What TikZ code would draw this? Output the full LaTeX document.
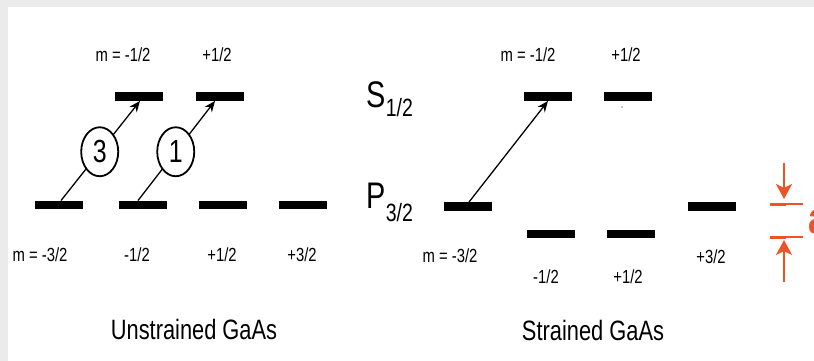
\documentclass[tikz,border=0pt]{standalone}
\usepackage{fontspec}
\setmainfont{Liberation Sans}
\newfontfamily\nar[FakeStretch=0.78]{Liberation Sans}
\usetikzlibrary{arrows.meta,shapes.geometric}
\definecolor{dimred}{RGB}{236,84,40}
\tikzset{
  bar/.style={fill=black, inner sep=0pt, minimum width=48pt, minimum height=8.5pt, draw=none},
  lbl/.style={font=\nar\fontsize{19}{21}\selectfont, inner sep=0pt},
  ttl/.style={font=\nar\fontsize{28}{30}\selectfont, inner sep=0pt},
  trans/.style={line width=1.3pt, -{Stealth[length=11pt,width=9pt]}},
  num/.style={ellipse, draw, line width=1.8pt, fill=white, minimum width=37pt, minimum height=49pt, inner sep=0pt, font=\nar\fontsize{32}{34}\selectfont},
  dim/.style={dimred, line width=2.6pt},
  dimarrow/.style={dimred, line width=2.6pt, -{Stealth[length=15pt,width=16pt,inset=4pt]}},
}
\begin{document}
\begin{tikzpicture}[x=1pt,y=-1pt]
\useasboundingbox (0,0) rectangle (814,361);
\clip (0,0) rectangle (814,361);
\fill[white] (0,0) rectangle (814,361);
\fill[gray!16] (0,0) rectangle (814,7);
\fill[gray!16] (0,0) rectangle (8,361);

% ---- Unstrained GaAs ----
\node[bar] (uu1) at (139,96.5) {};
\node[bar] (uu2) at (220,96.5) {};
\node[bar] (ul1) at (59,205) {};
\node[bar] (ul2) at (142.5,205) {};
\node[bar] (ul3) at (223,205) {};
\node[bar] (ul4) at (303,205) {};

\node[lbl] (tu1) at (123,55) {m = -1/2};
\node[lbl] (tu2) at (217,55) {+1/2};
\node[lbl] (bu1) at (40,255) {m = -3/2};
\node[lbl] (bu2) at (137,255) {-1/2};
\node[lbl] (bu3) at (222,255) {+1/2};
\node[lbl] (bu4) at (302,255) {+3/2};

\draw[trans] ([xshift=2pt]ul1.north) -- ([xshift=1pt]uu1.south)
  node[num, pos=0.49] (c3) {3};
\draw[trans] ([xshift=-4.5pt]ul2.north) -- ([xshift=-5pt]uu2.south)
  node[num, pos=0.49] (c1) {1};

\node[ttl] (tu) at (194,329) {Unstrained GaAs};

% ---- middle labels ----
\node[inner sep=0pt, anchor=base west, font=\nar\fontsize{37}{40}\selectfont] (S) at (366,107) {S};
\node[inner sep=0pt, anchor=base west, font=\nar\fontsize{25}{28}\selectfont] (Ssub) at (S.base east) [yshift=-10pt] {1/2};
\node[inner sep=0pt, anchor=base west, font=\nar\fontsize{37}{40}\selectfont] (P) at (366,208) {P};
\node[inner sep=0pt, anchor=base west, font=\nar\fontsize{25}{28}\selectfont] (Psub) at (P.base east) [yshift=-13pt] {3/2};

% ---- Strained GaAs ----
\node[bar] (su1) at (547.5,96.5) {};
\node[bar] (su2) at (628,96.5) {};
\node[bar] (sl1) at (468,206.5) {};
\node[bar] (sl2) at (550.5,234) {};
\node[bar] (sl3) at (631,234) {};
\node[bar] (sl4) at (711.5,206.5) {};
\fill (622,107) circle (0.6pt);

\node[lbl] (ts1) at (528,55) {m = -1/2};
\node[lbl] (ts2) at (626,55) {+1/2};
\node[lbl] (bs1) at (450,256) {m = -3/2};
\node[lbl] (bs2) at (546,277) {-1/2};
\node[lbl] (bs3) at (628,277) {+1/2};
\node[lbl] (bs4) at (711,257) {+3/2};

\draw[trans] ([xshift=1pt]sl1.north) -- ([xshift=0.5pt]su1.south);

\node[ttl] (ts) at (593,330) {Strained GaAs};

% ---- splitting dimension ----
\coordinate (dt0) at (784,163);
\coordinate (dt1) at (784,199);
\coordinate (db0) at (784,282);
\coordinate (db1) at (784,240);
\draw[dimarrow] (dt0) -- (dt1);
\draw[dimarrow] (db0) -- (db1);
\draw[dimred, line width=3pt] (770,204) -- (786,204);
\draw[dimred, line width=1.6pt] (786,204) -- (803,204);
\draw[dimred, line width=3pt] (770,237) -- (786,237);
\draw[dimred, line width=1.6pt] (786,237) -- (803,237);
\node[inner sep=0pt, anchor=base west, text=dimred, font=\bfseries\nar\fontsize{44}{46}\selectfont] (dlab) at (808,233) {a};
\end{tikzpicture}
\end{document}
